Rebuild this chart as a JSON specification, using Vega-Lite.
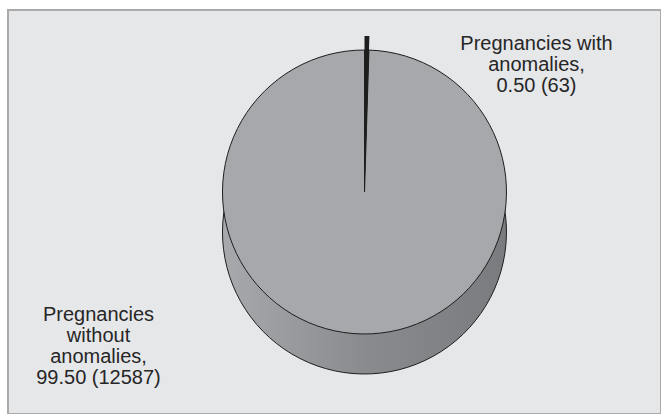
{
  "$schema": "https://vega.github.io/schema/vega-lite/v6.json",
  "width": 661,
  "height": 414,
  "autosize": {"type": "fit", "contains": "padding"},
  "padding": {"left": 8, "top": 10, "right": 0, "bottom": 0},
  "background": "white",
  "view": {"fill": "#e6e7e9", "stroke": "#aaaaaa", "strokeWidth": 2},
  "config": {
    "text": {"font": "Liberation Sans", "fontSize": 20, "lineHeight": 21, "color": "#262626"}
  },
  "data": {
    "values": [
      {"group": "Pregnancies with anomalies", "percent": 0.5, "count": 63, "lines": ["Pregnancies with", "anomalies,", "0.50 (63)"]},
      {"group": "Pregnancies without anomalies", "percent": 99.5, "count": 12587, "lines": ["Pregnancies", "without", "anomalies,", "99.50 (12587)"]}
    ]
  },
  "resolve": {"scale": {"color": "independent"}},
  "layer": [
    {
      "mark": {
        "type": "arc", "radius": 142, "xOffset": 30, "yOffset": 20,
        "stroke": "#1e1e1e", "strokeWidth": 1,
        "fill": {"gradient": "linear", "x1": 0, "y1": 0, "x2": 1, "y2": 0,
          "stops": [{"offset": 0, "color": "#a8a9ac"}, {"offset": 0.5, "color": "#8a8b8e"}, {"offset": 1, "color": "#7a7b7e"}]}
      },
      "encoding": {"theta": {"field": "count", "type": "quantitative", "stack": true}, "order": {"field": "group", "type": "nominal"}}
    },
    {
      "mark": {"type": "arc", "radius": 142, "xOffset": 30, "yOffset": -20, "stroke": "#1e1e1e", "strokeWidth": 1},
      "encoding": {
        "theta": {"field": "count", "type": "quantitative", "stack": true},
        "order": {"field": "group", "type": "nominal"},
        "color": {"field": "group", "type": "nominal", "legend": null,
          "scale": {"domain": ["Pregnancies with anomalies", "Pregnancies without anomalies"], "range": ["#1e1e1e", "#a7a8ab"]}}
      }
    },
    {
      "mark": {"type": "arc", "radius": 156, "xOffset": 30, "yOffset": -20, "strokeWidth": 0},
      "encoding": {
        "theta": {"field": "count", "type": "quantitative", "stack": true},
        "order": {"field": "group", "type": "nominal"},
        "color": {"field": "group", "type": "nominal", "legend": null,
          "scale": {"domain": ["Pregnancies with anomalies", "Pregnancies without anomalies"], "range": ["#1e1e1e", "transparent"]}}
      }
    },
    {
      "transform": [{"filter": "datum.count < 100"}],
      "mark": {"type": "text", "align": "center", "baseline": "top", "dx": 202, "dy": -178},
      "encoding": {"text": {"field": "lines"}}
    },
    {
      "transform": [{"filter": "datum.count > 100"}],
      "mark": {"type": "text", "align": "center", "baseline": "top", "dx": -236, "dy": 93},
      "encoding": {"text": {"field": "lines"}}
    }
  ]
}
